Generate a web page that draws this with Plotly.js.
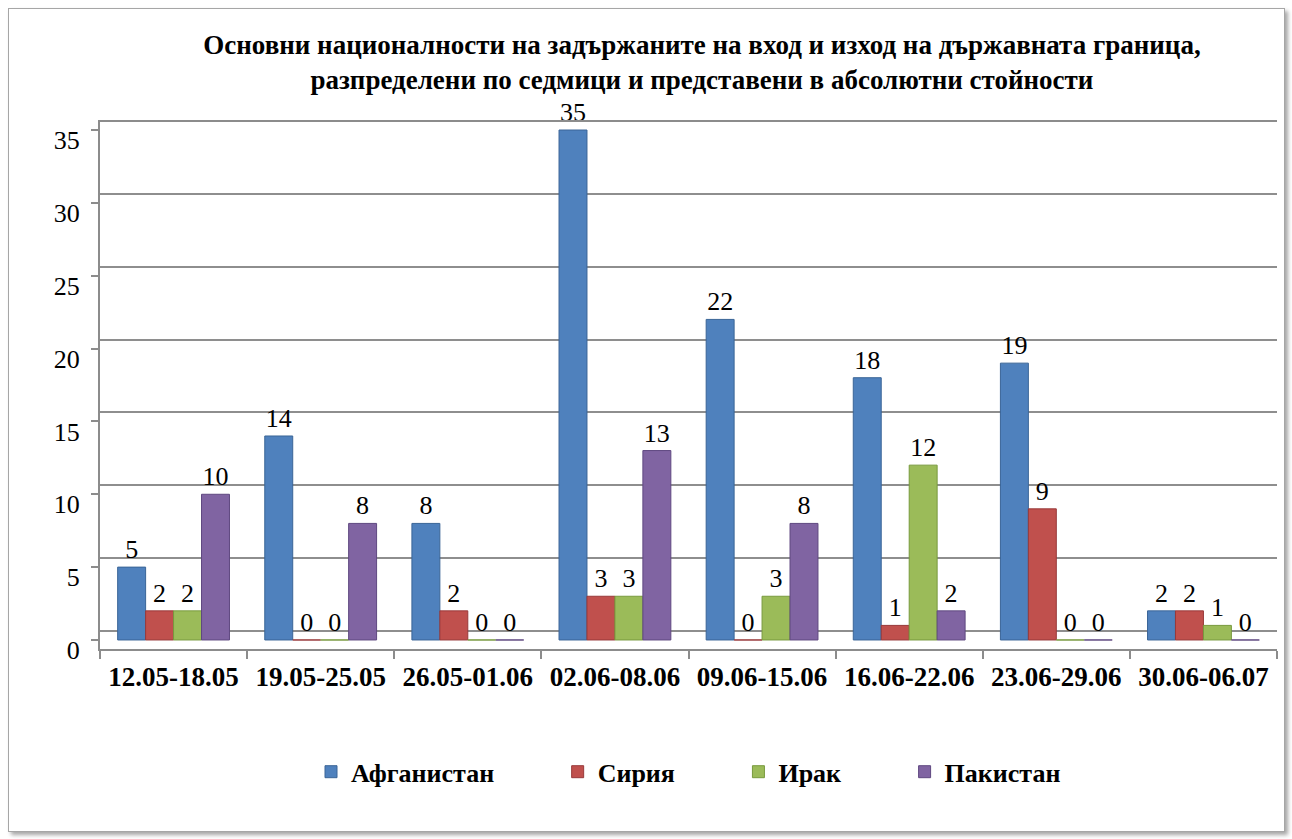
<!DOCTYPE html>
<html>
<head>
<meta charset="utf-8">
<script src="https://cdn.plot.ly/plotly-3.0.1.min.js"></script>
<style>
  html, body { margin: 0; padding: 0; background: #ffffff; }
  #chart {
    position: absolute; left: 8px; top: 8px;
    width: 1275px; height: 822px;
    border: 1px solid #a6a6a6;
    box-shadow: 3px 3px 4px rgba(0,0,0,0.35);
    background: #ffffff;
  }
</style>
</head>
<body>
<div id="chart"></div>
<script>
// ---- data ----
const weeks = ['12.05-18.05','19.05-25.05','26.05-01.06','02.06-08.06','09.06-15.06','16.06-22.06','23.06-29.06','30.06-06.07'];
const seriesNames = ['Афганистан','Сирия','Ирак','Пакистан'];
const afghanistan = [5, 14, 8, 35, 22, 18, 19, 2];
const syria       = [2, 0, 2, 3, 0, 1, 9, 2];
const iraq        = [2, 0, 0, 3, 3, 12, 0, 1];
const pakistan    = [10, 8, 0, 13, 8, 2, 0, 0];
const titleText = 'Основни националности на задържаните на вход и изход на държавната граница,<br>разпределени по седмици и представени в абсолютни стойности';

// ---- styles ----
const colors = ['#4F81BD', '#C0504D', '#9BBB59', '#8064A2'];
const edges  = ['#3A6597', '#98393A', '#789A3E', '#5F4880'];
const FONT = '"Liberation Serif", "Times New Roman", serif';
const pad = '\u00a0'.repeat(9);

const values = [afghanistan, syria, iraq, pakistan];
const traces = values.map((v, i) => ({
  type: 'bar',
  name: seriesNames[i] + (i < 3 ? pad : ''),
  x: weeks,
  y: v,
  marker: { color: colors[i], line: { color: edges[i], width: 1 } },
  text: v.map(String),
  textposition: 'outside',
  constraintext: 'none',
  cliponaxis: false,
  textfont: { family: FONT, size: 26, color: '#000000' },
  hoverinfo: 'x+y+name'
}));

const layout = {
  width: 1275,
  height: 822,
  margin: { l: 91, r: 7, t: 113, b: 182 },
  paper_bgcolor: '#ffffff',
  plot_bgcolor: 'rgba(0,0,0,0)',
  font: { family: FONT, color: '#000000' },
  title: {
    text: titleText,
    font: { family: FONT, size: 27, color: '#000000', weight: 'bold' },
    x: 0.5435, xref: 'container', xanchor: 'center',
    y: 1 - 45 / 822, yref: 'container', yanchor: 'top'
  },
  barmode: 'group',
  bargap: 0.24,
  bargroupgap: 0,
  showlegend: true,
  legend: {
    orientation: 'h',
    x: 0.5, xanchor: 'center',
    y: -0.233, yanchor: 'middle',
    font: { family: FONT, size: 26, color: '#000000', weight: 'bold' },
    traceorder: 'normal'
  },
  xaxis: {
    type: 'category',
    tickson: 'boundaries',
    ticks: 'outside', ticklen: 8, tickcolor: '#8c8c8c', tickwidth: 1.5,
    showline: true, linecolor: '#8c8c8c', linewidth: 2, mirror: true,
    showgrid: false,
    tickfont: { family: FONT, size: 27, color: '#000000', weight: 'bold' },
    ticklabelstandoff: 3
  },
  yaxis: {
    autorange: false,
    range: [-0.62, 35.55],
    tickmode: 'linear', tick0: 0, dtick: 5,
    ticks: 'outside', ticklen: 7, tickcolor: '#8c8c8c', tickwidth: 1.5,
    ticklabelshift: 10,
    ticklabelstandoff: 6,
    showline: true, linecolor: '#8c8c8c', linewidth: 2,
    showgrid: false,
    zeroline: false,
    minor: { tick0: 0.62, dtick: 5, showgrid: true, gridcolor: '#8e8e8e', gridwidth: 2, ticks: '' },
    tickfont: { family: FONT, size: 26, color: '#000000' },
    fixedrange: true
  }
};

Plotly.newPlot('chart', traces, layout, { displayModeBar: false });
</script>
</body>
</html>
